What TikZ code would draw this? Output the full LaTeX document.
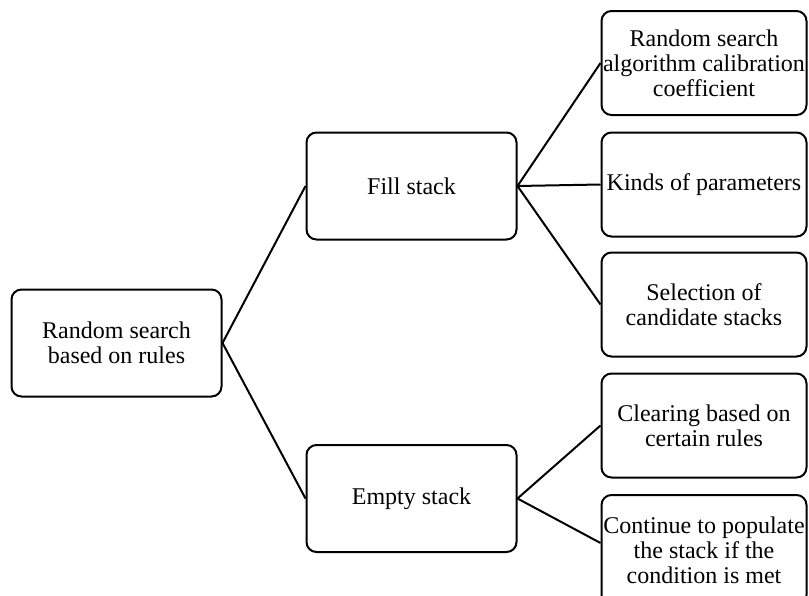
\documentclass[tikz,border=0pt]{standalone}
\usepackage{fontspec}
\setmainfont{Liberation Serif}
\begin{document}
\begin{tikzpicture}[x=1pt,y=-1pt,
  box/.style={draw=black, line width=2pt, rounded corners=10pt, rectangle,
    align=center, inner sep=0pt, font=\fontsize{24}{25}\selectfont},
  lbox/.style={box, minimum width=210pt, minimum height=107pt},
  rbox/.style={box, minimum width=205pt, minimum height=104pt},
  conn/.style={draw=black, line width=2pt}]
\useasboundingbox (0,0) rectangle (809,595);
\clip (0,0) rectangle (809,595);
\node[lbox] (root) at (116.5,343) {Random search\\based on rules};
\node[lbox] (fill) at (411.5,186) {Fill stack};
\node[lbox] (empty) at (411.5,498.5) {Empty stack};
\node[rbox] (b1) at (704,63) {Random search\\algorithm calibration\\coefficient};
\node[rbox] (b2) at (704,184.5) {Kinds of parameters};
\node[rbox] (b3) at (704,304.5) {Selection of\\candidate stacks};
\node[rbox] (b4) at (704,425.5) {Clearing based on\\certain rules};
\node[rbox, minimum height=110pt] (b5) at (704,550) {Continue to populate\\the stack if the\\condition is met};
\draw[conn] (root.east) -- (fill.west);
\draw[conn] (root.east) -- (empty.west);
\draw[conn] (fill.east) -- (b1.west);
\draw[conn] (fill.east) -- (b2.west);
\draw[conn] (fill.east) -- (b3.west);
\draw[conn] (empty.east) -- (b4.west);
\draw[conn] (empty.east) -- ([yshift=7pt]b5.west);
\end{tikzpicture}
\end{document}
